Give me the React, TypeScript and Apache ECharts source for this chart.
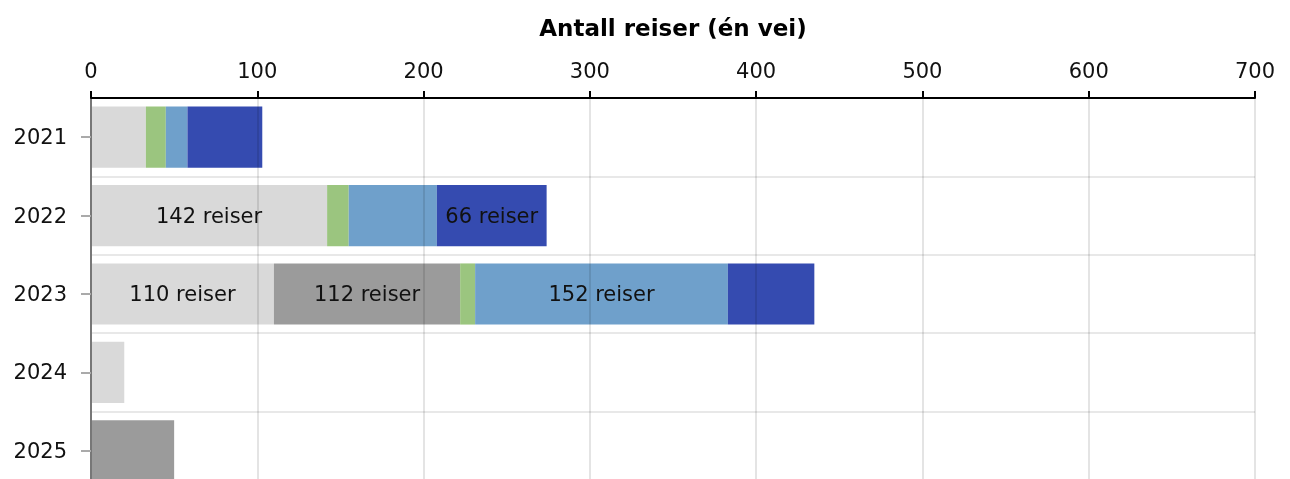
import React, { useEffect, useRef } from "react";
import * as echarts from "echarts";

const years = ["2021", "2022", "2023", "2024", "2025"];
const seriesNames = ["Lys grå", "Mørk grå", "Grønn", "Lys blå", "Mørk blå"];
const lightGray = [33, 142, 110, 20, 0];
const darkGray = [0, 0, 112, 0, 50];
const green = [12, 13, 9, 0, 0];
const lightBlue = [13, 53, 152, 0, 0];
const darkBlue = [45, 66, 52, 0, 0];
// which segments carry a "N reiser" label
const labelled = [
  [false, true, true, false, false],
  [false, false, true, false, false],
  [false, false, false, false, false],
  [false, false, true, false, false],
  [false, true, false, false, false],
];
const colors = ["#d9d9d9", "#9b9b9b", "#9bc57f", "#6fa0cb", "#354bb0"];
const xTicks = [0, 100, 200, 300, 400, 500, 600, 700];
const axisTitle = "Antall reiser (én vei)";

const FONT = "'DejaVu Sans', Verdana, sans-serif";

export default function App() {
  const ref = useRef<HTMLDivElement>(null);
  useEffect(() => {
    document.body.style.margin = "0";
    document.body.style.overflow = "hidden";
    document.documentElement.style.overflow = "hidden";
    const chart = echarts.init(ref.current!, null, { renderer: "svg" });
    const all = [lightGray, darkGray, green, lightBlue, darkBlue];
    chart.setOption({
      animation: false,
      textStyle: { fontFamily: FONT },
      grid: { left: 91, right: 35, top: 98, bottom: 0, containLabel: false, outerBoundsMode: "none" },
      xAxis: {
        type: "value",
        position: "top",
        min: xTicks[0],
        max: xTicks[xTicks.length - 1],
        interval: 100,
        z: 10,
        name: axisTitle,
        nameLocation: "middle",
        nameGap: 59,
        nameTextStyle: { fontSize: 23, fontWeight: "bold", color: "#000", fontFamily: FONT },
        axisLine: { show: true, lineStyle: { color: "#000", width: 2 } },
        axisTick: { show: true, length: 7, lineStyle: { color: "#000", width: 2 } },
        axisLabel: { fontSize: 21, color: "#111", margin: 17, fontFamily: FONT },
        splitLine: { show: true, lineStyle: { color: "rgba(0,0,0,0.14)", width: 1.5 } },
      },
      yAxis: {
        type: "category",
        data: years,
        inverse: true,
        z: 10,
        axisLine: { show: true, lineStyle: { color: "#777", width: 2 } },
        axisTick: { show: true, alignWithLabel: true, length: 10, lineStyle: { color: "#aaa", width: 2 } },
        axisLabel: { fontSize: 21, color: "#111", margin: 24, fontFamily: FONT },
        splitLine: { show: true, lineStyle: { color: "#e8e8e8", width: 2 } },
      },
      series: all.map((vals, si) => ({
        name: seriesNames[si],
        type: "bar",
        stack: "total",
        barCategoryGap: "22%",
        itemStyle: { color: colors[si] },
        data: vals.map((v, i) => ({
          value: v,
          label: {
            show: labelled[si][i],
            position: "inside",
            formatter: "{c} reiser",
            fontSize: 21,
            color: "#111",
            fontFamily: FONT,
          },
        })),
      })),
    });
    return () => chart.dispose();
  }, []);
  return (
    <div
      ref={ref}
      style={{ position: "fixed", left: 0, top: 0, width: 1290, height: 490 }}
    />
  );
}
